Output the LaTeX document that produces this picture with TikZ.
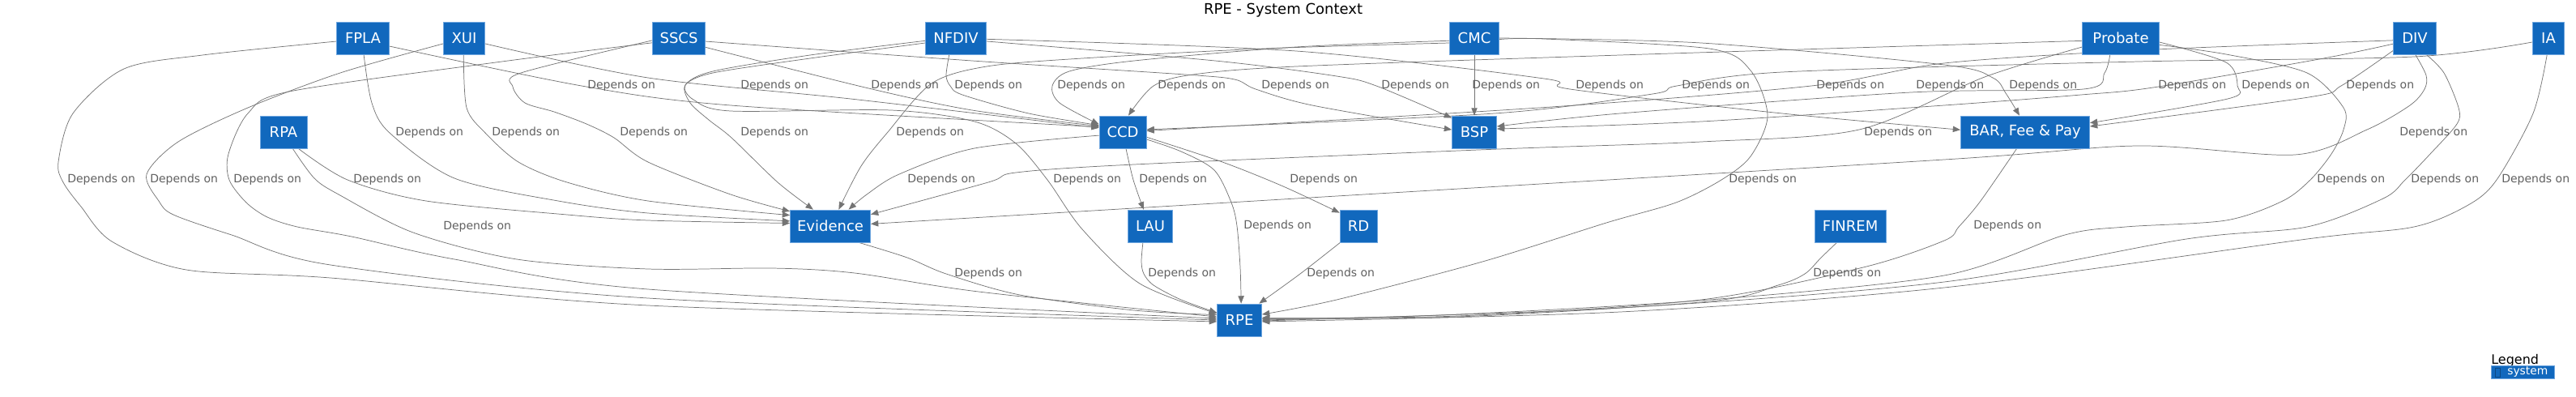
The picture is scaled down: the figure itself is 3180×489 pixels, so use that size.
\documentclass[tikz,border=0pt]{standalone}
\usepackage{fontspec}
\setmainfont{DejaVu Sans}
\usetikzlibrary{arrows.meta}
\definecolor{sysblue}{HTML}{1168BD}
\definecolor{sysedge}{HTML}{6FA6DF}
\definecolor{edgegray}{HTML}{747474}
\definecolor{lblgray}{HTML}{606060}
\newcommand\fNode{\fontsize{13.5pt}{16pt}\selectfont}
\newcommand\fDep{\fontsize{10.5pt}{12pt}\selectfont}
\newcommand\fTitle{\fontsize{13.5pt}{16pt}\selectfont}
\newcommand\fLegend{\fontsize{12pt}{14pt}\selectfont}
\newcommand\fLegSys{\fontsize{10.4pt}{12pt}\selectfont}
\pgfdeclarelayer{edges}
\pgfsetlayers{edges,main}
\begin{document}
\begin{tikzpicture}[x=0.75pt,y=-0.75pt,
  sys/.style={rectangle, fill=sysblue, draw=sysedge, line width=0.6pt, minimum height=30pt, inner sep=1pt, text=white, font=\fNode},
  lbl/.style={anchor=west, inner sep=0pt, text=lblgray, font=\fDep},
  dep/.style={draw=edgegray, line width=0.55pt, -{Triangle[length=7pt,width=5.5pt]}},
]
\useasboundingbox (0,0) rectangle (3180,489);

% title
\node[font=\fTitle, anchor=base, inner sep=0pt] (title) at (1584,17) {RPE - System Context};

% nodes
\node[sys, minimum width=48.75pt] (FPLA) at (448,47) {FPLA};
\node[sys, minimum width=38.25pt] (XUI) at (573,47) {XUI};
\node[sys, minimum width=48.75pt] (SSCS) at (838,47) {SSCS};
\node[sys, minimum width=56.25pt] (NFDIV) at (1180,47) {NFDIV};
\node[sys, minimum width=45.75pt] (CMC) at (1820,47) {CMC};
\node[sys, minimum width=71.25pt] (Probate) at (2618,47) {Probate};
\node[sys, minimum width=39.75pt] (DIV) at (2981,47) {DIV};
\node[sys, minimum width=29.25pt] (IA) at (3146,47) {IA};
\node[sys, minimum width=43.5pt] (RPA) at (350,163) {RPA};
\node[sys, minimum width=43.5pt] (CCD) at (1386,163) {CCD};
\node[sys, minimum width=41.25pt] (BSP) at (1820,163) {BSP};
\node[sys, minimum width=119.25pt] (BAR) at (2500,163) {BAR, Fee \& Pay};
\node[sys, minimum width=74.25pt] (Evidence) at (1025,279) {Evidence};
\node[sys, minimum width=41.25pt] (LAU) at (1420,279) {LAU};
\node[sys, minimum width=34.5pt] (RD) at (1677,279) {RD};
\node[sys, minimum width=66pt] (FINREM) at (2284,279) {FINREM};
\node[sys, minimum width=41.25pt] (RPE) at (1530,395) {RPE};

% labels row 106
\node[lbl] (d1) at (725,106) {Depends on};
\node[lbl] (d2) at (914,106) {Depends on};
\node[lbl] (d3) at (1075,106) {Depends on};
\node[lbl] (d4) at (1178,106) {Depends on};
\node[lbl] (d5) at (1305,106) {Depends on};
\node[lbl] (d6) at (1429,106) {Depends on};
\node[lbl] (d7) at (1557,106) {Depends on};
\node[lbl] (d8) at (1705,106) {Depends on};
\node[lbl] (d9) at (1817,106) {Depends on};
\node[lbl] (d10) at (1945,106) {Depends on};
\node[lbl] (d11) at (2480,106) {Depends on};
\node[lbl] (d12) at (2076,106) {Depends on};
\node[lbl] (d13) at (2242,106) {Depends on};
\node[lbl] (d14) at (2365,106) {Depends on};
\node[lbl] (d15) at (2664,106) {Depends on};
\node[lbl] (d16) at (2767,106) {Depends on};
\node[lbl] (d17) at (2896,106) {Depends on};
% row 164
\node[lbl] (d18) at (488,164) {Depends on};
\node[lbl] (d19) at (607,164) {Depends on};
\node[lbl] (d20) at (765,164) {Depends on};
\node[lbl] (d21) at (914,164) {Depends on};
\node[lbl] (d22) at (1106,164) {Depends on};
\node[lbl] (d23) at (2301,164) {Depends on};
\node[lbl] (d24) at (2962,164) {Depends on};
% row 222
\node[lbl] (d25) at (83,222) {Depends on};
\node[lbl] (d26) at (185,222) {Depends on};
\node[lbl] (d27) at (288,222) {Depends on};
\node[lbl] (d28) at (436,222) {Depends on};
\node[lbl] (d29) at (1120,222) {Depends on};
\node[lbl] (d30) at (1300,222) {Depends on};
\node[lbl] (d31) at (1406,222) {Depends on};
\node[lbl] (d32) at (1592,222) {Depends on};
\node[lbl] (d33) at (2134,222) {Depends on};
\node[lbl] (d34) at (2860,222) {Depends on};
\node[lbl] (d35) at (2976,222) {Depends on};
\node[lbl] (d36) at (3088,222) {Depends on};
% row 279
\node[lbl] (d37) at (547,280) {Depends on};
\node[lbl] (d38) at (1535,279) {Depends on};
\node[lbl] (d39) at (2436,279) {Depends on};
% row 338
\node[lbl] (d40) at (1178,338) {Depends on};
\node[lbl] (d41) at (1417,338) {Depends on};
\node[lbl] (d42) at (1613,338) {Depends on};
\node[lbl] (d43) at (2238,338) {Depends on};

% legend
\node[font=\fLegend, anchor=base west, inner sep=0pt] (legend) at (3075,449) {Legend};
\node[rectangle, fill=sysblue, draw=sysedge, line width=0.4pt, minimum width=58.5pt, minimum height=12pt, inner sep=0pt] (legsys) at (3114,459) {};
\node[font=\fLegSys, text=white, anchor=west, inner sep=0pt] (legtxt) at (3095,459) {system};
\draw[draw=sysblue!70!black, line width=0.4pt] (3080,454) rectangle (3086,465);

\begin{pgfonlayer}{edges}
% ---- top row -> CCD / BSP / BAR
\draw[dep] plot[smooth] coordinates {(FPLA.-17) (718,106) (902,130) (CCD.168)};
\draw[dep] plot[smooth] coordinates {(XUI.-15) (800,96) (1050,122) (CCD.170)};
\draw[dep] plot[smooth] coordinates {(SSCS.-19) (1068,108) (1200,136) (CCD.166)};
\draw[dep] plot[smooth] coordinates {(NFDIV.-112) (1168,93) (1173,106) (1188,117) (1270,140) (CCD.164)};
\draw[dep] plot[smooth] coordinates {(CMC.186) (1600,58) (1400,75) (1320,88) (1299,106) (1308,127) (CCD.162)};
\draw[dep] plot[smooth] coordinates {(Probate.184) (2000,68) (1600,82) (1473,92) (1424,106) (CCD.71)};
\draw[dep] plot[smooth] coordinates {(SSCS.-7) (1200,75) (1463,92) (1524,98) (1550,110) (1620,130) (BSP.174)};
\draw[dep] plot[smooth] coordinates {(NFDIV.-6) (1500,75) (1650,94) (1699,106) (BSP.148)};
\draw[dep] (CMC.south) -- (BSP.north);
\draw[dep] plot[smooth] coordinates {(NFDIV.-2) (1600,63) (1906,97) (1938,110) (2200,140) (BAR.178)};
\draw[dep] plot[smooth] coordinates {(CMC.east) (2100,53) (2400,80) (2460,96) (2476,115) (BAR.109)};
\draw[dep] plot[smooth] coordinates {(IA.194) (2980,70) (2640,76) (2200,89) (2070,106) (2040,116) (1845,140) (CCD.6)};
\draw[dep] plot[smooth] coordinates {(DIV.186) (2640,62) (2400,78) (2236,106) (1900,133) (CCD.3)};
\draw[dep] plot[smooth] coordinates {(Probate.237) (2598,90) (2572,110) (2359,114) (2000,140) (BSP.14)};
\draw[dep] plot[smooth] coordinates {(DIV.195) (2863,73) (2658,108) (2569,117) (2400,130) (2100,150) (BSP.8)};
\draw[dep] plot[smooth] coordinates {(Probate.-6) (2748,77) (2762,106) (2750,122) (BAR.8)};
\draw[dep] plot[smooth] coordinates {(DIV.210) (2890,106) (2850,120) (BAR.5)};
% ---- top row -> Evidence
\draw[dep] plot[smooth] coordinates {(FPLA.-87) (459,127) (481,164) (561,220) (689,248) (800,263) (Evidence.173)};
\draw[dep] plot[smooth] coordinates {(XUI.-92) (576,133) (599,164) (640,200) (700,225) (800,248) (Evidence.165)};
\draw[dep] plot[smooth] coordinates {(SSCS.185) (643,90) (633,107) (648,127) (684,138) (724,153) (758,170) (800,200) (902,240) (Evidence.160)};
\draw[dep] plot[smooth] coordinates {(NFDIV.185) (1000,68) (880,88) (846,105) (852,127) (875,148) (903,170) (960,225) (Evidence.136)};
\draw[dep] plot[smooth] coordinates {(CMC.191) (1560,60) (1336,72) (1218,82) (1150,103) (1096,163) (1063,205) (Evidence.63)};
\draw[dep] plot[smooth] coordinates {(Probate.193) (2450,95) (2295,160) (2100,175) (1850,184) (1400,203) (1254,213) (1220,225) (Evidence.16)};
\draw[dep] plot[smooth] coordinates {(DIV.-88) (2995,93) (2993,110) (2975,130) (2922,160) (2833,191) (2639,180) (2400,197) (1600,245) (Evidence.3)};
% ---- long edges to RPE and rank-2 to rank-4
\draw[dep] plot[smooth] coordinates {(FPLA.187) (250,68) (153,85) (90,140) (72,200) (78,225) (100,255) (138,298) (230,333) (408,343) (800,377) (RPE.184)};
\draw[dep] plot[smooth] coordinates {(XUI.195) (420,90) (306,133) (220,175) (181,215) (196,248) (214,265) (286,290) (408,327) (800,368) (RPE.180)};
\draw[dep] plot[smooth] coordinates {(SSCS.190) (612,77) (357,113) (306,140) (282,190) (283,222) (304,250) (330,268) (367,280) (434,292) (561,320) (800,357) (RPE.176)};
\draw[dep] plot[smooth] coordinates {(RPA.-48) (429,222) (526,248) (700,265) (800,272) (Evidence.176)};
\draw[dep] plot[smooth] coordinates {(CCD.188) (1203,183) (1110,215) (1070,240) (Evidence.42)};
\draw[dep] plot[smooth] coordinates {(NFDIV.189) (1000,72) (880,90) (846,105) (856,123) (902,137) (1100,136) (1203,150) (1254,177) (1293,222) (1336,283) (1407,350) (RPE.164)};
\draw[dep] plot[smooth] coordinates {(CCD.-79) (1399,222) (LAU.112)};
\draw[dep] plot[smooth] coordinates {(CCD.-12) (1509,200) (1584,230) (RD.145)};
\draw[dep] plot[smooth] coordinates {(CMC.-3) (1906,48) (2110,60) (2161,87) (2182,143) (2161,193) (2125,222) (2069,250) (1983,275) (1830,323) (1650,370) (RPE.14)};
\draw[dep] plot[smooth] coordinates {(Probate.-10) (2748,67) (2848,90) (2893,133) (2893,160) (2878,190) (2852,222) (2818,248) (2748,272) (2624,280) (2549,290) (2400,340) (2110,370) (1800,388) (RPE.0)};
\draw[dep] plot[smooth] coordinates {(DIV.-55) (3017,90) (3035,133) (3033,153) (3000,190) (2969,222) (2942,245) (2848,280) (2699,295) (2400,348) (2000,380) (RPE.-2)};
\draw[dep] plot[smooth] coordinates {(IA.-95) (3127,140) (3082,222) (3047,253) (2980,280) (2848,295) (2400,355) (2000,385) (RPE.-4)};
% ---- rank-2 -> RPE
\draw[dep] plot[smooth] coordinates {(RPA.-61) (388,220) (418,240) (510,287) (638,320) (800,332) (953,331) (1055,337) (1208,360) (RPE.172)};
\draw[dep] plot[smooth] coordinates {(CCD.-17) (1458,187) (1499,210) (1520,250) (1527,279) (1531,330) (RPE.84)};
\draw[dep] plot[smooth] coordinates {(BAR.243) (2445,248) (2418,280) (2400,297) (2300,330) (2100,370) (1800,390) (RPE.6)};
% ---- rank-4 -> RPE
\draw[dep] plot[smooth] coordinates {(Evidence.-30) (1120,318) (1168,338) (1259,364) (1400,383) (RPE.167)};
\draw[dep] plot[smooth] coordinates {(LAU.-114) (1409,323) (1412,338) (1424,352) (1458,370) (RPE.162)};
\draw[dep] plot[smooth] coordinates {(RD.222) (1605,338) (RPE.40)};
\draw[dep] plot[smooth] coordinates {(FINREM.231) (2248,318) (2228,338) (2195,352) (2110,372) (1800,391) (RPE.3)};
\end{pgfonlayer}
\end{tikzpicture}
\end{document}
